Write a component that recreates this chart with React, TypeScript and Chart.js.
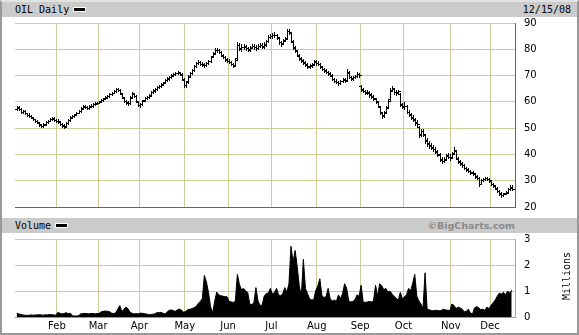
import React, { useEffect, useRef } from 'react';
import { Chart, registerables } from 'chart.js';

Chart.register(...registerables);

// ---------- data ----------
const months = ['Jan', 'Feb', 'Mar', 'Apr', 'May', 'Jun', 'Jul', 'Aug', 'Sep', 'Oct', 'Nov', 'Dec'];
const tradingDaysPerMonth = [20, 20, 20, 22, 21, 21, 22, 21, 21, 23, 19, 11];

const opens = [
  57.2, 57.9, 57.2, 56.0, 56.4, 55.6, 55.1, 54.5, 54.0, 53.3, 52.6, 52.0, 51.2, 50.9, 51.5, 52.4, 52.9, 53.5, 53.8, 53.0,
  52.9, 52.5, 51.5, 51.1, 50.8, 52.0, 53.0, 54.1, 54.5, 55.2, 55.9, 56.6, 57.5, 58.3, 57.9, 57.7, 58.3, 58.5, 59.1, 59.3,
  59.7, 60.2, 60.7, 61.3, 61.7, 62.3, 62.9, 63.5, 64.1, 64.9, 64.4, 63.0, 61.6, 60.3, 59.6, 59.6, 61.8, 63.0, 62.2, 60.0,
  58.7, 59.2, 60.6, 61.3, 61.9, 62.6, 63.7, 64.3, 64.9, 65.5, 66.1, 66.7, 67.4, 68.3, 68.9, 69.5, 70.1, 70.7, 70.9, 71.0, 70.4, 68.5,
  66.4, 67.8, 69.9, 71.0, 72.3, 73.8, 74.7, 75.0, 74.3, 74.4, 74.1, 74.8, 75.7, 77.4, 78.5, 79.7, 79.6, 78.8, 77.6, 77.0, 76.0,
  75.5, 75.0, 74.3, 74.1, 76.6, 81.5, 80.2, 80.9, 81.0, 80.3, 79.9, 80.8, 81.3, 80.7, 80.5, 81.3, 81.5, 81.1, 81.9, 83.2, 84.7,
  85.0, 85.3, 85.4, 84.3, 82.6, 82.3, 83.5, 84.4, 86.9, 86.2, 82.9, 80.6, 79.2, 77.6, 76.4, 75.6, 74.8, 74.2, 73.4, 73.9, 74.5, 75.4,
  74.9, 74.3, 73.2, 72.4, 71.9, 71.2, 70.6, 70.0, 68.6, 67.9, 67.5, 67.3, 68.0, 68.6, 68.3, 71.0, 69.3, 68.9, 69.5, 69.9, 70.5,
  66.0, 64.6, 64.0, 63.4, 63.5, 62.8, 62.0, 61.0, 59.8, 58.0, 55.6, 54.9, 56.0, 58.2, 61.2, 64.3, 64.8, 63.8, 63.6, 63.0, 58.8,
  58.2, 58.3, 56.0, 55.0, 54.2, 53.2, 52.3, 50.4, 47.8, 49.0, 47.4, 45.6, 44.3, 43.5, 42.6, 42.0, 41.2, 39.8, 38.0, 37.4, 38.4, 39.6, 39.2,
  39.0, 40.4, 41.2, 38.4, 37.2, 36.4, 35.8, 34.8, 34.2, 33.6, 33.0, 32.6, 31.6, 30.9, 28.9, 30.3, 30.7, 31.1, 30.6,
  29.8, 28.8, 28.0, 27.0, 26.0, 25.0, 24.7, 25.2, 25.6, 26.9, 27.6,
];
const highs = [
  58.4, 58.3, 57.6, 57.0, 56.8, 55.9, 55.6, 54.9, 54.4, 53.6, 53.0, 52.3, 51.7, 51.8, 52.6, 53.2, 53.9, 54.2, 54.2, 53.5,
  53.4, 52.9, 51.9, 51.5, 52.2, 53.6, 54.5, 55.0, 55.5, 56.2, 56.8, 57.9, 58.7, 58.8, 58.4, 58.7, 59.1, 59.4, 59.9, 60.1,
  60.5, 61.0, 61.6, 62.1, 62.6, 63.3, 63.9, 64.5, 65.4, 65.4, 64.9, 63.4, 62.0, 60.8, 60.2, 62.1, 63.9, 63.5, 62.6, 60.5,
  59.6, 60.8, 61.9, 62.3, 62.9, 64.0, 64.9, 65.3, 66.1, 66.5, 67.1, 67.7, 68.7, 69.3, 69.9, 70.5, 71.1, 71.4, 71.8, 71.5, 70.8, 68.9,
  68.0, 70.1, 71.4, 72.6, 74.2, 75.3, 75.9, 75.6, 75.0, 74.9, 75.2, 76.0, 77.6, 78.9, 80.3, 80.6, 80.1, 79.3, 78.2, 77.6, 76.5,
  76.2, 75.6, 74.8, 76.4, 82.6, 82.4, 81.9, 82.0, 81.8, 81.0, 81.3, 82.2, 82.1, 81.6, 81.9, 82.5, 82.3, 82.6, 83.6, 85.3, 86.0,
  86.1, 86.4, 86.0, 84.8, 83.2, 83.8, 84.6, 87.9, 87.7, 86.6, 83.5, 81.4, 79.9, 78.2, 77.0, 76.2, 75.5, 74.8, 74.5, 74.8, 75.9, 76.0,
  75.6, 74.8, 73.7, 73.0, 72.5, 71.8, 71.3, 70.5, 69.2, 68.6, 68.1, 68.3, 68.9, 69.2, 72.6, 71.7, 69.9, 69.9, 70.4, 71.2, 71.0,
  66.4, 65.4, 64.7, 64.4, 64.0, 63.4, 62.6, 61.6, 60.3, 58.4, 56.3, 56.4, 58.4, 61.0, 65.3, 66.0, 65.3, 64.4, 64.6, 63.5, 59.7,
  59.8, 58.8, 56.9, 55.8, 55.0, 54.0, 53.0, 50.9, 49.8, 49.6, 47.9, 46.2, 45.0, 44.2, 43.4, 42.7, 41.8, 40.4, 38.9, 38.9, 40.2, 40.4, 40.0,
  40.8, 42.8, 41.7, 39.0, 37.8, 37.0, 36.4, 35.4, 34.8, 34.1, 33.6, 33.1, 32.1, 31.3, 30.8, 31.2, 31.6, 31.6, 31.1,
  30.2, 29.3, 28.5, 27.5, 26.5, 25.6, 25.5, 26.0, 27.3, 28.2, 28.3,
];
const lows = [
  57.0, 57.0, 55.8, 55.7, 55.4, 54.6, 54.2, 53.8, 53.0, 52.4, 51.8, 51.0, 50.5, 50.6, 51.2, 52.1, 52.6, 53.1, 52.8, 52.3,
  52.1, 51.2, 50.6, 50.2, 50.5, 51.7, 52.7, 53.7, 54.3, 54.9, 55.6, 56.3, 57.3, 57.6, 57.2, 57.4, 58.0, 58.2, 58.8, 59.0,
  59.4, 59.9, 60.4, 61.0, 61.4, 62.0, 62.6, 63.2, 63.8, 64.1, 62.9, 61.4, 60.0, 59.3, 58.9, 59.3, 61.4, 62.0, 59.8, 58.3,
  58.2, 58.9, 60.2, 60.9, 61.5, 62.3, 63.3, 63.9, 64.6, 65.2, 65.8, 66.4, 67.1, 67.9, 68.5, 69.1, 69.8, 70.3, 70.5, 70.1, 68.4, 65.8,
  65.6, 67.3, 69.4, 70.5, 71.9, 73.3, 74.3, 73.9, 73.6, 73.4, 73.6, 74.3, 75.3, 76.9, 78.1, 79.1, 78.5, 77.3, 76.6, 75.7, 75.0,
  74.7, 73.9, 73.2, 73.6, 76.3, 79.6, 79.5, 80.2, 79.6, 79.2, 79.4, 80.3, 80.0, 79.8, 80.1, 80.7, 80.3, 80.6, 81.4, 82.8, 84.2,
  84.4, 84.8, 84.0, 82.2, 81.4, 81.9, 83.1, 84.1, 85.8, 82.6, 80.0, 78.8, 77.4, 75.9, 75.2, 74.4, 73.8, 73.0, 72.8, 73.3, 74.0, 74.2,
  74.0, 73.0, 72.1, 71.5, 70.9, 70.3, 69.7, 68.3, 67.4, 67.0, 66.6, 66.8, 67.5, 67.5, 67.9, 69.0, 68.3, 68.4, 68.9, 69.4, 69.6,
  64.1, 63.6, 63.0, 62.9, 62.0, 61.6, 60.8, 59.6, 58.0, 55.4, 53.8, 54.2, 55.6, 57.8, 60.8, 64.0, 63.0, 62.7, 63.0, 58.4, 57.6,
  57.4, 55.6, 54.5, 53.3, 52.7, 51.3, 50.9, 46.6, 47.2, 47.0, 44.5, 43.3, 42.5, 42.1, 41.4, 40.4, 39.5, 37.6, 36.8, 37.0, 37.9, 38.5, 38.0,
  38.6, 40.0, 38.2, 36.8, 36.0, 35.4, 34.4, 33.8, 33.2, 32.6, 32.2, 31.2, 30.6, 28.0, 28.6, 29.8, 30.2, 30.2, 29.6,
  28.2, 27.7, 26.8, 25.8, 24.7, 23.9, 24.2, 24.8, 25.3, 26.5, 26.6,
];
const closes = [
  57.8, 57.4, 56.2, 56.6, 55.8, 55.0, 54.6, 54.2, 53.4, 52.8, 52.2, 51.4, 51.0, 51.2, 52.2, 52.8, 53.4, 53.6, 53.2, 52.8,
  52.6, 51.6, 51.0, 50.6, 51.8, 53.2, 54.0, 54.6, 55.0, 55.8, 56.4, 57.4, 58.2, 58.0, 57.6, 58.2, 58.6, 59.0, 59.4, 59.6,
  60.0, 60.6, 61.2, 61.6, 62.2, 62.8, 63.4, 64.0, 64.8, 64.6, 63.2, 61.8, 60.4, 59.8, 59.4, 61.6, 63.2, 62.4, 60.2, 58.8,
  59.0, 60.4, 61.4, 61.8, 62.4, 63.6, 64.4, 64.8, 65.6, 66.0, 66.6, 67.2, 68.2, 68.8, 69.4, 70.0, 70.6, 70.8, 71.2, 70.6, 68.8, 66.6,
  67.4, 69.6, 70.8, 72.0, 73.6, 74.6, 75.2, 74.4, 74.2, 74.0, 74.6, 75.4, 77.0, 78.2, 79.6, 79.8, 79.0, 77.8, 77.2, 76.2, 75.6,
  75.2, 74.4, 73.8, 75.8, 81.8, 80.4, 80.8, 81.2, 80.4, 80.0, 80.6, 81.4, 80.8, 80.6, 81.2, 81.6, 81.0, 81.8, 83.0, 84.6, 85.2,
  85.4, 85.6, 84.6, 82.8, 82.0, 83.2, 84.0, 86.8, 86.6, 83.2, 80.8, 79.6, 78.0, 76.6, 75.8, 75.0, 74.4, 73.6, 73.8, 74.2, 75.2, 74.8,
  74.5, 73.5, 72.6, 72.0, 71.4, 70.8, 70.2, 68.8, 68.0, 67.6, 67.2, 67.8, 68.4, 68.0, 71.4, 69.6, 68.8, 69.4, 69.8, 70.6, 70.2,
  64.8, 64.2, 63.6, 63.8, 62.6, 62.2, 61.4, 60.2, 58.6, 56.0, 54.6, 55.6, 57.8, 60.4, 64.6, 65.2, 63.6, 63.4, 64.0, 59.0, 58.4,
  58.6, 56.2, 55.2, 54.0, 53.4, 52.0, 51.6, 47.4, 48.8, 47.8, 45.2, 44.0, 43.2, 42.8, 42.2, 41.0, 40.2, 38.2, 37.6, 38.0, 39.4, 39.0, 38.6,
  40.2, 41.6, 38.8, 37.4, 36.6, 36.0, 35.0, 34.4, 33.8, 33.2, 32.8, 31.8, 31.2, 28.6, 30.2, 30.6, 31.0, 30.8, 30.2,
  28.6, 28.2, 27.2, 26.2, 25.2, 24.6, 25.0, 25.4, 26.8, 27.4, 27.0,
];
const volumeMillions = [
  0.14, 0.12, 0.10, 0.08, 0.07, 0.06, 0.07, 0.08, 0.07, 0.08, 0.08, 0.09, 0.08, 0.07, 0.09, 0.08, 0.10, 0.09, 0.08, 0.07,
  0.18, 0.14, 0.12, 0.13, 0.17, 0.12, 0.15, 0.05, 0.04, 0.04, 0.05, 0.12, 0.13, 0.14, 0.13, 0.12, 0.14, 0.13, 0.12, 0.13,
  0.14, 0.20, 0.22, 0.23, 0.22, 0.21, 0.15, 0.13, 0.16, 0.30, 0.44, 0.20, 0.30, 0.38, 0.32, 0.18, 0.14, 0.12, 0.13, 0.12,
  0.15, 0.14, 0.13, 0.11, 0.10, 0.09, 0.11, 0.12, 0.17, 0.16, 0.18, 0.14, 0.12, 0.20, 0.26, 0.27, 0.24, 0.22, 0.28, 0.30, 0.26, 0.18,
  0.22, 0.28, 0.30, 0.32, 0.36, 0.40, 0.52, 0.60, 0.70, 1.60, 1.35, 0.95, 0.40, 0.15, 0.60, 0.96, 0.85, 0.82, 0.80, 0.78, 0.78,
  0.60, 0.58, 0.56, 0.60, 1.64, 1.25, 1.05, 1.10, 1.00, 0.95, 0.50, 0.48, 0.55, 1.13, 0.62, 0.45, 0.45, 0.80, 0.90, 0.92, 1.10,
  0.88, 0.95, 1.10, 0.85, 0.82, 0.90, 1.13, 0.95, 1.28, 2.72, 2.12, 2.56, 1.95, 1.20, 0.78, 2.22, 1.10, 0.90, 0.70, 0.66, 0.65, 1.02,
  1.20, 1.47, 0.82, 0.75, 0.78, 1.10, 0.70, 0.62, 0.65, 0.60, 0.85, 0.70, 0.90, 1.28, 1.10, 0.62, 0.58, 0.60, 0.66, 0.85, 0.80,
  1.22, 0.58, 0.56, 0.58, 0.60, 0.58, 0.62, 1.22, 0.80, 1.28, 1.20, 1.05, 1.10, 0.95, 1.00, 0.88, 0.80, 0.72, 0.65, 0.95, 0.70,
  0.78, 0.85, 1.10, 1.00, 1.30, 1.64, 0.80, 0.62, 0.50, 0.35, 1.70, 0.30, 0.28, 0.25, 0.24, 0.26, 0.25, 0.24, 0.26, 0.30, 0.27, 0.26, 0.24,
  0.50, 0.45, 0.32, 0.38, 0.35, 0.30, 0.20, 0.22, 0.30, 0.15, 0.12, 0.35, 0.40, 0.36, 0.28, 0.30, 0.26, 0.38, 0.32,
  0.45, 0.55, 0.65, 0.80, 0.92, 0.88, 0.95, 0.85, 1.00, 0.92, 1.03,
];
const priceTicks = [20, 30, 40, 50, 60, 70, 80, 90];
const volumeTicks = [0, 1, 2, 3];

// month boundary ticks (between last day of a month and first of next)
const monthTicks: { value: number; label: string }[] = [];
{
  let acc = 0;
  tradingDaysPerMonth.forEach((n, m) => {
    if (m > 0) monthTicks.push({ value: acc - 0.5, label: months[m] });
    acc += n;
  });
}

const GRID = '#cccc99';
const FONT = { family: 'DejaVu Sans', size: 10 };

const xAxis = (showLabels: boolean, borderColor: string) => ({
  type: 'linear' as const,
  offset: false,
  min: -0.8,
  max: closes.length + 0.6,
  afterBuildTicks: (axis: any) => {
    axis.ticks = monthTicks.map((m) => ({ value: m.value }));
  },
  afterFit: (axis: any) => {
    axis.height = showLabels ? 16 : 0;
  },
  ticks: {
    display: showLabels,
    autoSkip: false,
    maxRotation: 0,
    padding: 3,
    color: '#000',
    font: FONT,
    callback: (v: number) => {
      const t = monthTicks.find((m) => Math.abs(m.value - v) < 1e-6);
      return t ? t.label : '';
    },
  },
  grid: { color: GRID, drawTicks: false, lineWidth: 1, offset: false },
  border: { display: true, color: borderColor, width: 1 },
});

const yAxis = (min: number, max: number, ticks: number[], borderColor: string) => ({
  type: 'linear' as const,
  position: 'right' as const,
  min,
  max,
  afterBuildTicks: (axis: any) => {
    axis.ticks = ticks.map((v) => ({ value: v }));
  },
  afterFit: (axis: any) => {
    axis.width = 64;
  },
  ticks: { padding: 0, color: '#000', font: FONT },
  grid: {
    color: GRID,
    drawTicks: true,
    tickLength: 9,
    tickColor: 'rgba(0,0,0,0)',
    lineWidth: 1,
  },
  border: { display: true, color: borderColor, width: 1 },
});

// draws high-low bars with open (left) and close (right) ticks through the chart's scales
const ohlcPlugin = {
  id: 'ohlcBars',
  afterDatasetsDraw(chart: any) {
    const { ctx, chartArea } = chart;
    const xs = chart.scales.x;
    const ys = chart.scales.y;
    const ds = chart.data.datasets[0];
    ctx.save();
    ctx.beginPath();
    ctx.rect(chartArea.left, chartArea.top - 2, chartArea.width, chartArea.height + 2);
    ctx.clip();
    ctx.fillStyle = '#000';
    ds.data.forEach((d: any) => {
      const px = Math.round(xs.getPixelForValue(d.x));
      const yh = Math.round(ys.getPixelForValue(d.y[1]));
      const yl = Math.round(ys.getPixelForValue(d.y[0]));
      const yo = Math.round(ys.getPixelForValue(d.o));
      const yc = Math.round(ys.getPixelForValue(d.c));
      ctx.fillRect(px, yh, 1, Math.max(1, yl - yh + 1));
      ctx.fillRect(px - 2, yo, 2, 1);
      ctx.fillRect(px + 1, yc, 2, 1);
    });
    ctx.restore();
  },
};

export default function App() {
  const priceRef = useRef<HTMLCanvasElement>(null);
  const volRef = useRef<HTMLCanvasElement>(null);

  useEffect(() => {
    const priceData = closes.map((c, i) => ({ x: i, y: [lows[i], highs[i]], o: opens[i], c }));
    const priceChart = new Chart(priceRef.current as HTMLCanvasElement, {
      type: 'bar',
      data: {
        datasets: [
          {
            label: 'OIL',
            data: priceData as any,
            backgroundColor: 'rgba(0,0,0,0)',
            borderWidth: 0,
            barThickness: 1,
          },
        ],
      },
      options: {
        animation: false,
        responsive: false,
        devicePixelRatio: 1,
        events: [],
        layout: { padding: { left: 15, right: 0, top: 6, bottom: 11 } },
        plugins: { legend: { display: false }, tooltip: { enabled: false } },
        scales: {
          x: xAxis(false, '#666'),
          y: yAxis(20, 90, priceTicks, '#666'),
        } as any,
      },
      plugins: [ohlcPlugin],
    });

    const volChart = new Chart(volRef.current as HTMLCanvasElement, {
      type: 'line',
      data: {
        datasets: [
          {
            label: 'Volume',
            data: volumeMillions.map((v, i) => ({ x: i, y: v })),
            borderColor: '#000',
            backgroundColor: '#000',
            borderWidth: 1,
            pointRadius: 0,
            tension: 0,
            fill: 'origin',
          },
        ],
      },
      options: {
        animation: false,
        responsive: false,
        devicePixelRatio: 1,
        events: [],
        layout: { padding: { left: 15, right: 0, top: 6, bottom: 0 } },
        plugins: { legend: { display: false }, tooltip: { enabled: false } },
        scales: {
          x: xAxis(true, '#999'),
          y: yAxis(0, 3, volumeTicks, '#aaa'),
        } as any,
      },
    });

    return () => {
      priceChart.destroy();
      volChart.destroy();
    };
  }, []);

  const mono = "'DejaVu Sans Mono', monospace";
  const headerBase: React.CSSProperties = {
    position: 'absolute',
    left: 2,
    width: 575,
    height: 15,
    background: '#cbcbcb',
    fontFamily: mono,
    fontSize: 10,
    lineHeight: '15px',
    color: '#000',
  };
  const swatch: React.CSSProperties = {
    position: 'absolute',
    width: 11,
    height: 3,
    background: '#000',
    border: '1px solid #fff',
  };

  return (
    <div
      style={{
        position: 'fixed',
        left: 0,
        top: 0,
        width: 579,
        height: 335,
        background: '#fff',
        overflow: 'hidden',
      }}
    >
      <div style={{ ...headerBase, top: 2 }}>
        <span style={{ position: 'absolute', left: 13, top: 0 }}>OIL Daily</span>
        <div style={{ ...swatch, left: 71, top: 5 }} />
        <span style={{ position: 'absolute', right: 6, top: 0 }}>12/15/08</span>
      </div>
      <canvas
        ref={priceRef}
        width={579}
        height={201}
        style={{ position: 'absolute', left: 0, top: 17, width: 579, height: 201 }}
      />
      <div style={{ ...headerBase, top: 218 }}>
        <span style={{ position: 'absolute', left: 13, top: 0 }}>Volume</span>
        <div style={{ ...swatch, left: 53, top: 5 }} />
        <span
          style={{
            position: 'absolute',
            right: 62,
            top: 0,
            fontFamily: "'DejaVu Sans', sans-serif",
            fontWeight: 'bold',
            fontSize: 9.5,
            color: '#8a8a8a',
          }}
        >
          ©BigCharts.com
        </span>
      </div>
      <canvas
        ref={volRef}
        width={579}
        height={100}
        style={{ position: 'absolute', left: 0, top: 233, width: 579, height: 100 }}
      />
      <div
        style={{
          position: 'absolute',
          left: 537,
          top: 270,
          width: 60,
          height: 12,
          lineHeight: '12px',
          textAlign: 'center',
          fontFamily: mono,
          fontSize: 10,
          color: '#000',
          transform: 'rotate(-90deg)',
        }}
      >
        Millions
      </div>
      <div
        style={{
          position: 'absolute',
          left: 0,
          top: 0,
          width: 579,
          height: 335,
          boxSizing: 'border-box',
          borderLeft: '2px solid #999',
          borderRight: '2px solid #999',
          borderBottom: '2px solid #999',
          borderTop: '2px solid #e2e2e2',
          pointerEvents: 'none',
        }}
      />
    </div>
  );
}
